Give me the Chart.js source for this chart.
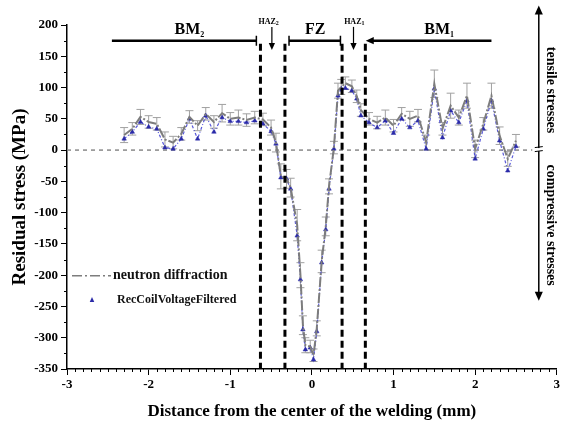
<!DOCTYPE html>
<html>
<head>
<meta charset="utf-8">
<script src="https://cdn.jsdelivr.net/npm/chart.js@4.4.1/dist/chart.umd.min.js"></script>
<style>
html, body { margin: 0; padding: 0; background: #fff; }
#wrap { width: 562px; height: 422px; }
</style>
</head>
<body>
<div id="wrap"><canvas id="chart"></canvas></div>
<script>
// distance from weld centre (mm)
const distances = [
	-2.3, -2.2, -2.1, -2.0, -1.9, -1.8, -1.7, -1.6, -1.5, -1.4, -1.3, -1.2, -1.1, -1.0, -0.9, -0.8, -0.7, -0.6, -0.5,
	-0.44, -0.38, -0.31, -0.26,
	-0.18, -0.14, -0.11, -0.08, -0.02, 0.02, 0.06, 0.12, 0.17, 0.21, 0.27,
	0.32, 0.36, 0.41, 0.49, 0.55,
	0.6, 0.7, 0.8, 0.9, 1.0, 1.1, 1.2, 1.3, 1.4, 1.5, 1.6, 1.7, 1.8, 1.9, 2.0, 2.1, 2.2, 2.3, 2.4, 2.5
];
const neutronStress = [
	24, 34, 53, 45, 42, 17, 12, 26, 53, 39, 58, 45, 59, 50, 52, 48, 52, 49, 36,
	12, -42, -46, -60,
	-120, -200, -280, -312, -314, -328, -285, -178, -122, -58, 4,
	95, 101, 107, 102, 86,
	64, 50, 44, 52, 39, 58, 50, 55, 12, 106, 34, 71, 52, 87, 2, 42, 87, 23, -14, 15
];
const neutronError = [
	12, 10, 12, 10, 10, 12, 10, 10, 10, 8, 10, 10, 14, 10, 12, 10, 10, 10, 12,
	15, 20, 15, 15,
	25, 20, 15, 12, 10, 10, 12, 18, 15, 12, 10,
	12, 12, 10, 10, 10,
	10, 10, 10, 12, 10, 10, 12, 10, 12, 22, 10, 20, 12, 20, 14, 10, 20, 14, 12, 10
];
const coilStress = [
	18, 29, 45, 37, 34, 4, 2, 18, 50, 18, 55, 29, 52, 46, 46, 44, 47, 42, 30,
	10, -44, -46, -62,
	-137, -207, -287, -319, -316, -335, -290, -180, -127, -62, 2,
	87, 98, 99, 95, 82,
	55, 44, 36, 47, 27, 50, 36, 47, 2, 98, 20, 63, 44, 79, -14, 34, 79, 15, -33, 6
];

// weld zones (mm)
const zoneBounds = [-0.63, -0.33, 0.37, 0.655];
const bm2Span = [-2.45, -0.68];
const fzSpan = [-0.28, 0.35];
const bm1Span = [2.2, 0.66];
const haz2At = -0.49;
const haz1At = 0.51;

const SERIF = "'Liberation Serif', 'Times New Roman', serif";
const GRAY = '#7d7d7d';
const BLUE = '#2a2aa8';

function font(size) {
	return 'bold ' + size + 'px ' + SERIF;
}

function arrowHead(ctx, x, y, dx, dy, size) {
	// tip at (x, y), pointing along (dx, dy)
	const len = Math.hypot(dx, dy);
	const ux = dx / len, uy = dy / len;
	ctx.beginPath();
	ctx.moveTo(x, y);
	ctx.lineTo(x - ux * size - uy * size * 0.45, y - uy * size + ux * size * 0.45);
	ctx.lineTo(x - ux * size + uy * size * 0.45, y - uy * size - ux * size * 0.45);
	ctx.closePath();
	ctx.fill();
}

function labelWithSub(ctx, text, sub, cx, y, size, subSize) {
	ctx.font = font(size);
	const w1 = ctx.measureText(text).width;
	ctx.font = font(subSize);
	const w2 = ctx.measureText(sub).width;
	const x0 = cx - (w1 + w2) / 2;
	ctx.textAlign = 'left';
	ctx.textBaseline = 'alphabetic';
	ctx.font = font(size);
	ctx.fillText(text, x0, y);
	ctx.font = font(subSize);
	ctx.fillText(sub, x0 + w1, y + size * 0.2);
}

const weldDecor = {
	id: 'weldDecor',
	beforeDatasetsDraw(chart) {
		const { ctx, chartArea } = chart;
		const px = v => chart.scales.x.getPixelForValue(v);
		const py = v => chart.scales.y.getPixelForValue(v);
		ctx.save();

		// zero line
		ctx.strokeStyle = '#8a8a8a';
		ctx.lineWidth = 1.5;
		ctx.setLineDash([4, 4]);
		ctx.beginPath();
		ctx.moveTo(chartArea.left, py(0));
		ctx.lineTo(px(2.7), py(0));
		ctx.stroke();

		// error bars of neutron data
		ctx.setLineDash([]);
		ctx.strokeStyle = '#a0a0a0';
		ctx.lineWidth = 1;
		distances.forEach((d, i) => {
			const x = px(d);
			const top = py(neutronStress[i] + neutronError[i]);
			const bot = py(neutronStress[i] - neutronError[i]);
			ctx.beginPath();
			ctx.moveTo(x, top);
			ctx.lineTo(x, bot);
			ctx.moveTo(x - 4, top);
			ctx.lineTo(x + 4, top);
			ctx.moveTo(x - 4, bot);
			ctx.lineTo(x + 4, bot);
			ctx.stroke();
		});
		ctx.restore();
	},
	afterDraw(chart) {
		const { ctx, chartArea } = chart;
		const px = v => chart.scales.x.getPixelForValue(v);
		const py = v => chart.scales.y.getPixelForValue(v);
		ctx.save();
		ctx.fillStyle = '#000';
		ctx.strokeStyle = '#000';

		// minor ticks
		ctx.lineWidth = 1;
		ctx.beginPath();
		for (let i = -30; i <= 30; i++) {
			if (i % 10 === 0) continue;
			const x = Math.round(px(i / 10)) + 0.5;
			ctx.moveTo(x, chartArea.bottom);
			ctx.lineTo(x, chartArea.bottom + 3);
		}
		for (let v = -325; v < 200; v += 50) {
			const y = Math.round(py(v)) + 0.5;
			ctx.moveTo(chartArea.left - 3, y);
			ctx.lineTo(chartArea.left, y);
		}
		ctx.stroke();

		// zone boundaries
		ctx.lineWidth = 3;
		ctx.setLineDash([7, 4]);
		zoneBounds.forEach(b => {
			ctx.beginPath();
			ctx.moveTo(px(b), py(170));
			ctx.lineTo(px(b), chartArea.bottom);
			ctx.stroke();
		});
		ctx.setLineDash([]);

		// zone bars
		const barY = py(175);
		ctx.lineWidth = 2.5;
		ctx.beginPath();
		ctx.moveTo(px(bm2Span[0]), barY);
		ctx.lineTo(px(bm2Span[1]), barY);
		ctx.moveTo(px(fzSpan[0]), barY);
		ctx.lineTo(px(fzSpan[1]), barY);
		ctx.moveTo(px(bm1Span[0]), barY);
		ctx.lineTo(px(bm1Span[1]) + 6, barY);
		ctx.stroke();
		ctx.lineWidth = 1.5;
		ctx.beginPath();
		[bm2Span[1], fzSpan[0], fzSpan[1]].forEach(v => {
			ctx.moveTo(px(v), barY - 5);
			ctx.lineTo(px(v), barY + 5);
		});
		ctx.stroke();
		arrowHead(ctx, px(bm1Span[1]), barY, -1, 0, 8);

		// HAZ arrows
		ctx.lineWidth = 1.2;
		[haz2At, haz1At].forEach(v => {
			ctx.beginPath();
			ctx.moveTo(px(v), py(197));
			ctx.lineTo(px(v), py(166));
			ctx.stroke();
			arrowHead(ctx, px(v), py(160), 0, 1, 7);
		});

		// zone labels
		labelWithSub(ctx, 'BM', '2', px(-1.5), py(186), 16, 8);
		labelWithSub(ctx, 'BM', '1', px(1.56), py(186), 16, 8);
		ctx.font = font(16);
		ctx.textAlign = 'center';
		ctx.fillText('FZ', px(0.04), py(186));
		labelWithSub(ctx, 'HAZ', '2', px(-0.53), py(202), 8, 6);
		labelWithSub(ctx, 'HAZ', '1', px(0.52), py(202), 8, 6);

		// stress sign arrow on the right
		const ax = px(2.78);
		ctx.lineWidth = 1.5;
		ctx.beginPath();
		ctx.moveTo(ax, py(222));
		ctx.lineTo(ax, py(-232));
		ctx.stroke();
		arrowHead(ctx, ax, py(231), 0, -1, 9);
		arrowHead(ctx, ax, py(-241), 0, 1, 9);
		ctx.fillStyle = '#fff';
		ctx.fillRect(ax - 4, py(0) - 2, 8, 3);
		ctx.fillStyle = '#000';
		ctx.lineWidth = 1;
		ctx.beginPath();
		ctx.moveTo(ax - 4, py(0) - 2.5);
		ctx.lineTo(ax + 4, py(0) - 3.5);
		ctx.moveTo(ax - 4, py(0) + 1.5);
		ctx.lineTo(ax + 4, py(0) + 0.5);
		ctx.stroke();

		ctx.font = font(14);
		ctx.textAlign = 'center';
		ctx.textBaseline = 'middle';
		[['tensile stresses', 96], ['compressive stresses', -120]].forEach(([t, v]) => {
			ctx.save();
			ctx.translate(px(2.93), py(v));
			ctx.rotate(Math.PI / 2);
			ctx.fillText(t, 0, 0);
			ctx.restore();
		});

		// legend
		const l = chartArea.left;
		const row1 = py(-201), row2 = py(-239);
		ctx.strokeStyle = GRAY;
		ctx.lineWidth = 1.5;
		ctx.setLineDash([10, 3, 2, 3]);
		ctx.beginPath();
		ctx.moveTo(l + 5, row1);
		ctx.lineTo(l + 44, row1);
		ctx.stroke();
		ctx.setLineDash([]);
		ctx.fillStyle = '#111';
		ctx.textAlign = 'left';
		ctx.font = font(14);
		ctx.fillText('neutron diffraction', l + 46, row1);
		ctx.fillStyle = BLUE;
		arrowHead(ctx, l + 25, row2 - 2.5, 0, -1, 5);
		ctx.fillStyle = '#111';
		ctx.font = font(12);
		ctx.fillText('RecCoilVoltageFiltered', l + 50, row2);
		ctx.restore();
	}
};

const ctx = document.getElementById('chart').getContext('2d');
new Chart(ctx, {
	type: 'line',
	data: {
		datasets: [
			{
				label: 'neutron diffraction',
				data: distances.map((d, i) => ({ x: d, y: neutronStress[i] })),
				borderColor: GRAY,
				borderWidth: 2,
				borderDash: [10, 2, 2, 2],
				pointRadius: 0,
				tension: 0
			},
			{
				label: 'RecCoilVoltageFiltered',
				data: distances.map((d, i) => ({ x: d, y: coilStress[i] })),
				borderColor: 'rgba(60, 60, 210, 0.85)',
				borderWidth: 1.2,
				borderDash: [3, 2, 1, 2],
				pointStyle: 'triangle',
				pointRadius: 2.6,
				pointBackgroundColor: BLUE,
				pointBorderColor: BLUE,
				pointBorderWidth: 0.5,
				tension: 0
			}
		]
	},
	options: {
		responsive: true,
		maintainAspectRatio: false,
		animation: false,
		layout: { padding: { top: 25, right: 2, left: 0, bottom: 0 } },
		plugins: {
			legend: { display: false },
			tooltip: { enabled: false }
		},
		scales: {
			x: {
				type: 'linear',
				min: -3,
				max: 3,
				afterFit: s => { s.height = 53; },
				ticks: {
					stepSize: 1,
					padding: 2,
					color: '#000',
					font: { family: SERIF, size: 13, weight: 'bold' }
				},
				grid: { drawOnChartArea: false, tickLength: 6, color: '#000' },
				border: { color: '#000', width: 1.5 },
				title: {
					display: true,
					text: 'Distance from the center of the welding (mm)',
					color: '#000',
					font: { family: SERIF, size: 17, weight: 'bold' },
					padding: { top: 1, bottom: 0 }
				}
			},
			y: {
				min: -350,
				max: 200,
				afterFit: s => { s.width = 67; },
				ticks: {
					stepSize: 50,
					padding: 3,
					color: '#000',
					font: { family: SERIF, size: 13, weight: 'bold' }
				},
				grid: { drawOnChartArea: false, tickLength: 6, color: '#000' },
				border: { color: '#000', width: 1.5 },
				title: {
					display: true,
					text: 'Residual stress (MPa)',
					color: '#000',
					font: { family: SERIF, size: 19, weight: 'bold' },
					padding: { top: 9, bottom: 0 }
				}
			}
		}
	},
	plugins: [weldDecor]
});
</script>
</body>
</html>
